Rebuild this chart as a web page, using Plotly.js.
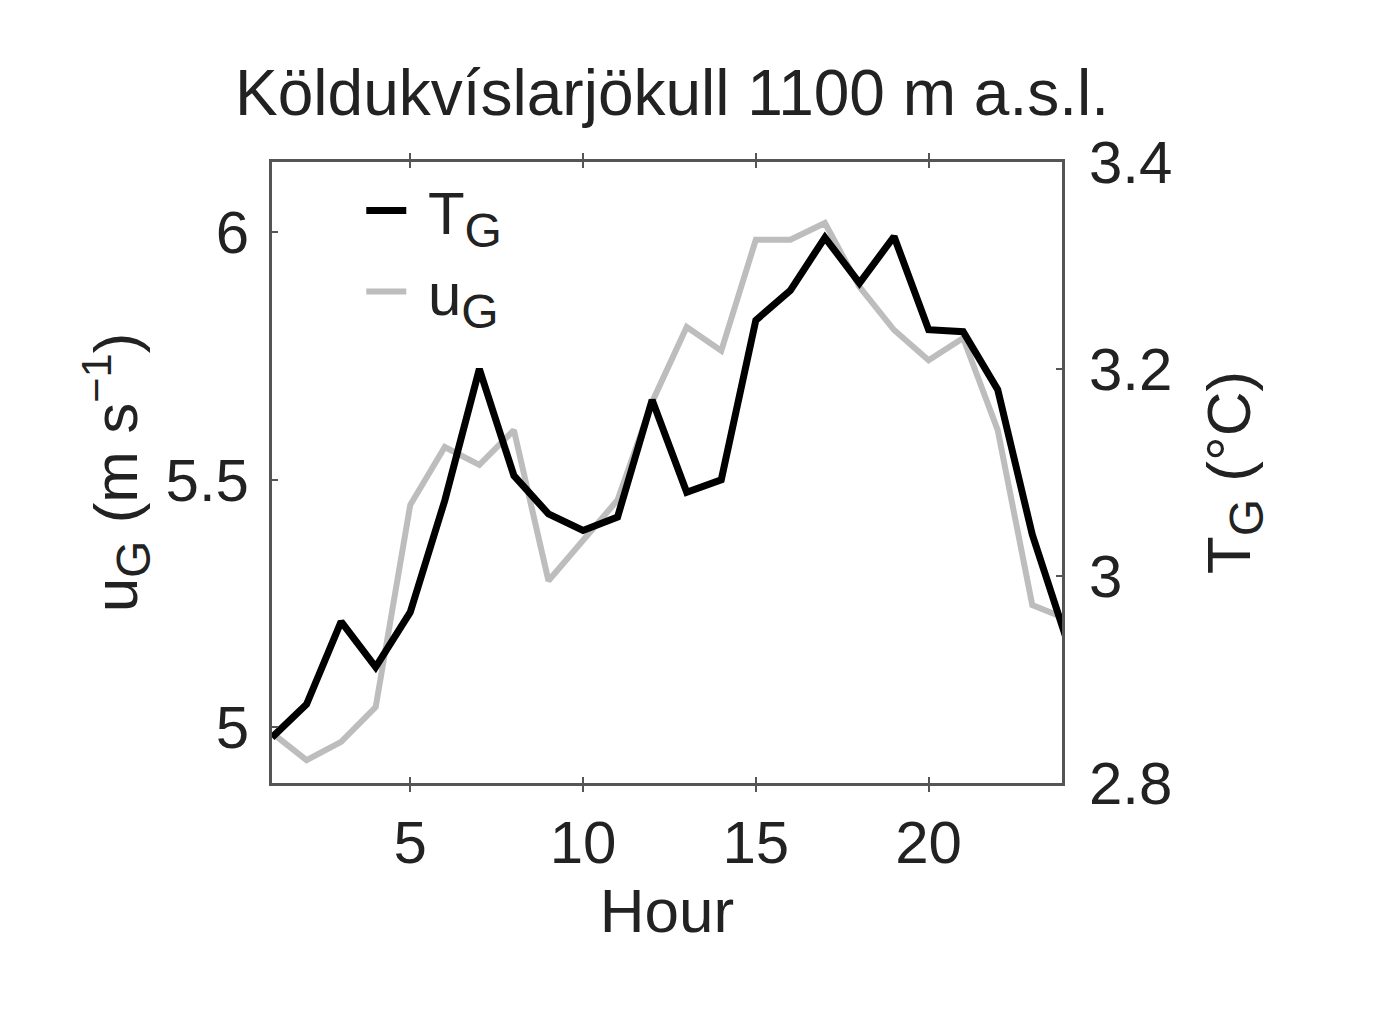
<!DOCTYPE html>
<html>
<head>
<meta charset="utf-8">
<script src="https://cdn.plot.ly/plotly-3.0.1.min.js"></script>
<style>body{margin:0;background:#fff}</style>
</head>
<body>
<div id="plot1" style="width:1400px;height:1024px"></div>
<script>
// hours of the day
var hours = [1,2,3,4,5,6,7,8,9,10,11,12,13,14,15,16,17,18,19,20,21,22,23,24];

// T_G, glacier air temperature (right axis, deg C)
var tG = [2.844,2.876,2.956,2.912,2.965,3.073,3.200,3.097,3.060,3.044,3.057,3.170,
          3.081,3.093,3.247,3.276,3.327,3.283,3.328,3.238,3.236,3.180,3.040,2.938];

// u_G, glacier wind speed (left axis, m/s)
var uG = [4.989,4.934,4.971,5.041,5.449,5.566,5.530,5.600,5.296,5.376,5.459,5.657,
          5.808,5.760,5.984,5.984,6.018,5.889,5.802,5.741,5.786,5.600,5.247,5.219];

var xTicks = [5,10,15,20];
var uTicks = [5,5.5,6];
var tTicks = [2.8,3,3.2,3.4];

var font = "Liberation Sans, Arial, sans-serif";
var axisCol = "#555555";
var sub = function(s) { return "<sub><span style='font-size:48px'>" + s + "</span></sub>"; };

// gray first so the black line is drawn on top
var trace1 = {
  x: hours,
  y: uG,
  type: "scatter",
  mode: "lines",
  name: "&nbsp;u" + sub("G"),
  line: {color: "#bdbdbd", width: 6},
  yaxis: "y"
};

var trace2 = {
  x: hours,
  y: tG,
  type: "scatter",
  mode: "lines",
  name: "&nbsp;T" + sub("G"),
  line: {color: "#000000", width: 7},
  yaxis: "y2"
};

var layout = {
  width: 1400,
  height: 1024,
  autosize: false,
  paper_bgcolor: "#ffffff",
  plot_bgcolor: "#ffffff",
  margin: {l: 272, r: 338, t: 162, b: 241},
  font: {family: font, size: 60, color: "#222222"},
  title: {
    text: "Köldukvíslarjökull 1100 m a.s.l.",
    font: {family: font, size: 64, color: "#222222"},
    xref: "container", x: 0.48, xanchor: "center",
    yref: "container", y: 0.91, yanchor: "middle"
  },
  showlegend: true,
  legend: {
    x: 0.113, y: 0.995, xanchor: "left", yanchor: "top",
    traceorder: "reversed",
    bgcolor: "rgba(0,0,0,0)",
    font: {family: font, size: 60, color: "#222222"},
    itemwidth: 40, tracegroupgap: 0
  },
  xaxis: {
    range: [1, 23.86],
    tickvals: xTicks,
    ticktext: xTicks.map(String),
    ticks: "inside", ticklen: 6, tickwidth: 2, tickcolor: axisCol,
    showline: true, linecolor: axisCol, linewidth: 3, mirror: "allticks",
    showgrid: false, zeroline: false,
    ticklabelstandoff: 5,
    title: {text: "Hour", font: {family: font, size: 62}, standoff: 6}
  },
  yaxis: {
    range: [4.888, 6.141],
    tickvals: uTicks,
    ticktext: ["5", "5.5", "6"],
    ticks: "inside", ticklen: 6, tickwidth: 2, tickcolor: axisCol,
    showline: true, linecolor: axisCol, linewidth: 3, mirror: false,
    showgrid: false, zeroline: false,
    ticklabelstandoff: 8,
    title: {text: "u" + sub("G") + " (m s<sup>−1</sup>)", font: {family: font, size: 62}, standoff: 8}
  },
  yaxis2: {
    range: [2.8, 3.4],
    overlaying: "y",
    side: "right",
    tickvals: tTicks,
    ticktext: ["2.8", "3", "3.2", "3.4"],
    ticks: "inside", ticklen: 6, tickwidth: 2, tickcolor: axisCol,
    showline: true, linecolor: axisCol, linewidth: 3,
    showgrid: false, zeroline: false,
    ticklabelstandoff: 12,
    title: {text: "T" + sub("G") + " (°C)", font: {family: font, size: 62}, standoff: 36}
  }
};

Plotly.newPlot("plot1", [trace1, trace2], layout, {displayModeBar: false});
</script>
</body>
</html>
